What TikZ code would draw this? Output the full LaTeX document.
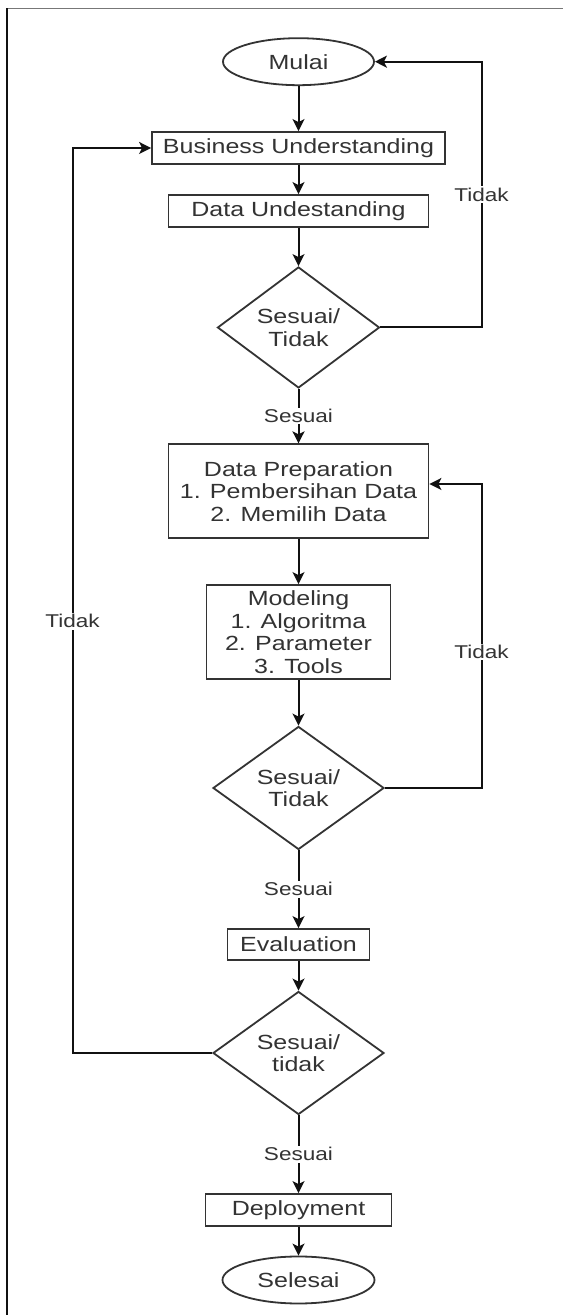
\documentclass[tikz,border=0pt]{standalone}
\usepackage{fontspec}
\setmainfont{Liberation Sans}[FakeStretch=1.22]
\usetikzlibrary{shapes.geometric,arrows.meta}
\definecolor{pcFFFFFF}{HTML}{FFFFFF}
\definecolor{pc333333}{HTML}{333333}
\definecolor{pc111111}{HTML}{111111}
\definecolor{pc777777}{HTML}{777777}

\begin{document}
\begin{tikzpicture}[
  box/.style={draw=pc333333, line width=1.800bp, inner sep=0, text=pc333333, align=center, font=\fontsize{20.500bp}{22.500bp}\selectfont},
  oval/.style={box, ellipse},
  choice/.style={box, diamond},
  lbl/.style={fill=pcFFFFFF, inner sep=1.500bp, text=pc333333, font=\fontsize{18.500bp}{20.000bp}\selectfont},
  flow/.style={draw=pc111111, line width=2.000bp, -{Stealth[length=12bp,width=12bp,inset=3bp]}}
]
\path[use as bounding box] (0bp,0bp) rectangle (563.000bp,1315.000bp);
\path[fill=pcFFFFFF] (0.000bp,0.000bp) rectangle (563.000bp,1315.000bp);
\draw[line width=1.000bp, color=pc777777] (7.300bp,1306.700bp) -- (563.000bp,1306.700bp);
\draw[line width=2.000bp, color=pc111111] (7.300bp,1306.700bp) -- (7.300bp,0.000bp);
\node[oval, minimum width=151bp, minimum height=47bp] (mulai) at (298.500bp,1253.300bp) {Mulai};
\node[box, minimum width=293bp, minimum height=32bp] (bu) at (298.500bp,1167.000bp) {Business Understanding};
\node[box, minimum width=260bp, minimum height=32bp] (du) at (298.500bp,1104.000bp) {Data Undestanding};
\node[choice, minimum width=162bp, minimum height=108bp] (d1) at (298.500bp,987.500bp) {Sesuai/\\Tidak};
\node[box, minimum width=260bp, minimum height=94bp] (dp) at (298.500bp,823.700bp) {Data Preparation\\1. Pembersihan Data\\2. Memilih Data};
\node[box, minimum width=184bp, minimum height=94bp] (md) at (298.500bp,683.000bp) {Modeling\\1. Algoritma\\2. Parameter\\3. Tools};
\node[choice, minimum width=171bp, minimum height=123bp] (d2) at (298.500bp,527.000bp) {Sesuai/\\Tidak};
\node[box, minimum width=142bp, minimum height=31bp] (ev) at (298.500bp,370.500bp) {Evaluation};
\node[choice, minimum width=171bp, minimum height=123bp] (d3) at (298.500bp,262.000bp) {Sesuai/\\tidak};
\node[box, minimum width=186bp, minimum height=32bp] (de) at (298.500bp,105.000bp) {Deployment};
\node[oval, minimum width=152bp, minimum height=47bp] (se) at (298.500bp,35.000bp) {Selesai};
\coordinate (r1) at (481.500bp,987.500bp);
\coordinate (r1top) at (481.500bp,1253.300bp);
\coordinate (r2) at (481.500bp,527.000bp);
\coordinate (r2top) at (481.500bp,831.000bp);
\coordinate (l3) at (72.500bp,262.000bp);
\coordinate (l3top) at (72.500bp,1167.000bp);
\draw[flow] (mulai) -- (bu);
\draw[flow] (bu) -- (du);
\draw[flow] (du) -- (d1);
\draw[flow] (d1) -- node[lbl] {Sesuai} (dp);
\draw[flow] (dp) -- (md);
\draw[flow] (md) -- (d2);
\draw[flow] (d2) -- node[lbl] {Sesuai} (ev);
\draw[flow] (ev) -- (d3);
\draw[flow] (d3) -- node[lbl] {Sesuai} (de);
\draw[flow] (de) -- (se);
\draw[flow] (d1.east) -- (r1) -- node[lbl] {Tidak} (r1top) -- (mulai.east);
\draw[flow] (d2.east) -- (r2) -- node[lbl, pos=0.447] {Tidak} (r2top) -- (r2top -| dp.east);
\draw[flow] (d3.west) -- (l3) -- node[lbl, pos=0.477] {Tidak} (l3top) -- (bu.west);
\end{tikzpicture}
\end{document}
